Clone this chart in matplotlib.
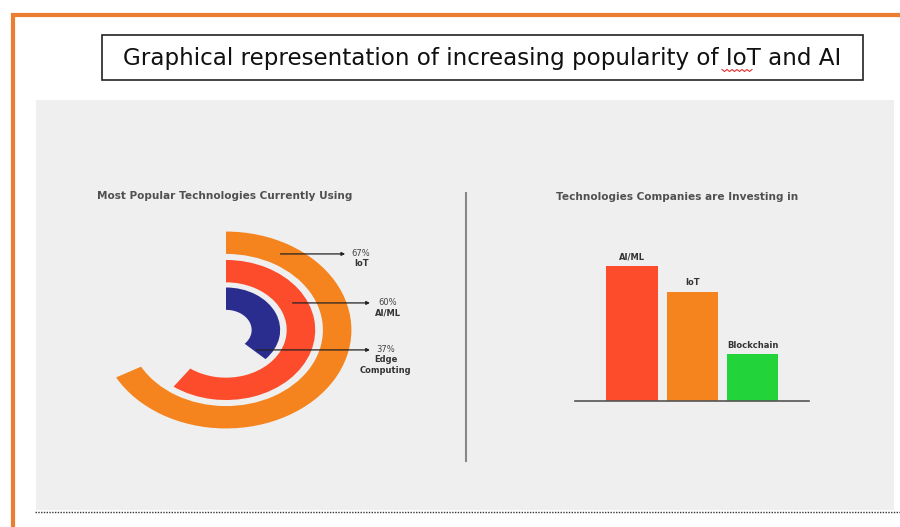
import numpy as np
import matplotlib
matplotlib.use("Agg")
import matplotlib.pyplot as plt
from matplotlib.patches import Wedge, Rectangle
from matplotlib.lines import Line2D

# ==============================
# DATA
# ==============================
title = "Graphical representation of increasing popularity of IoT and AI"

ring_title = "Most Popular Technologies Currently Using"
ring_labels = ["Edge\nComputing", "AI/ML", "IoT"]      # inner -> outer
ring_values = [37, 60, 67]                              # percent
ring_colors = ["#2B2D8E", "#FC4C2C", "#F5841F"]

bar_title = "Technologies Companies are Investing in"
bar_labels = ["AI/ML", "IoT", "Blockchain"]
bar_values = [58, 47, 20]
bar_colors = ["#FC4C2C", "#F5841F", "#22D33A"]

# ==============================
# FIGURE / LAYOUT HELPERS
# ==============================
W, H = 900, 527
fig = plt.figure(figsize=(W / 100, H / 100), dpi=100)
fig.patch.set_facecolor("white")


def fx(px):
    return px / W


def fy(py):
    return 1 - py / H


def axes_px(left, top, right, bottom):
    return fig.add_axes([fx(left), fy(bottom), (right - left) / W, (bottom - top) / H])


# orange page border
fig.add_artist(Line2D([fx(11), fx(900)], [fy(15), fy(15)], color="#ED7D31", lw=3,
                      solid_capstyle="butt"))
fig.add_artist(Line2D([fx(12.5), fx(12.5)], [fy(13.5), fy(527)], color="#ED7D31", lw=3,
                      solid_capstyle="butt"))

# title box
fig.add_artist(Rectangle((fx(102), fy(80)), fx(863) - fx(102), fy(35) - fy(80),
                         facecolor="white", edgecolor="#222222", lw=1.2))
fig.text(fx(482), fy(58), title, ha="center", va="center",
         fontsize=16.6, family="DejaVu Sans", color="#111111")
# spell-check squiggle under "IoT"
zz_x = np.arange(722, 754, 2.5)
zz_y = np.where(np.arange(len(zz_x)) % 2 == 0, 69.5, 71.5)
fig.add_artist(Line2D(fx(zz_x), fy(zz_y), color="#E03030", lw=0.8))

# grey panel + dotted rule + separator (behind the chart axes)
fig.add_artist(Rectangle((fx(36), fy(510)), fx(894) - fx(36), fy(100) - fy(510),
                         facecolor="#EFEFEF", edgecolor="none", zorder=-10))
fig.add_artist(Line2D([fx(35), fx(900)], [fy(512), fy(512)], color="#333333",
                      lw=1, linestyle=(0, (1, 1)), zorder=-5))
fig.add_artist(Line2D([fx(466), fx(466)], [fy(193), fy(461)], color="#888888",
                      lw=1.5, zorder=-5))

# ==============================
# LEFT: RADIAL BARS
# ==============================
cx, cy = 226, 330           # ring centre (px)
ux = 28.5                   # px per data unit, horizontal
uy = ux * 0.785             # vertical (image is squashed)
L, T, R, B = 90, 215, 450, 450
ax1 = axes_px(L, T, R, B)
ax1.set_xlim((L - cx) / ux, (R - cx) / ux)
ax1.set_ylim(-(B - cy) / uy, (cy - T) / uy)
ax1.axis("off")

inner_r = [0.9, 2.13, 3.4]
band = 1.0
label_y = [-0.89, 1.21, 3.40]      # y level of each pointer line
head_x = [5.05, 5.05, 4.18]
text_x = [5.61, 5.68, 4.74]

for r0, v, c, lab, yl, hx, tx in zip(inner_r, ring_values, ring_colors,
                                      ring_labels, label_y, head_x, text_x):
    ax1.add_patch(Wedge((0, 0), r0 + band, 90 - 360 * v / 100, 90,
                        width=band, facecolor=c, edgecolor="none"))
    rm = r0 + band / 2
    x0 = np.sqrt(rm ** 2 - yl ** 2)
    ax1.annotate("", xy=(hx, yl), xytext=(x0, yl),
                 arrowprops=dict(arrowstyle="-|>", color="#222222", lw=0.9,
                                 mutation_scale=5, shrinkA=0, shrinkB=0))
    ax1.text(tx, yl, f"{v}%", ha="center", va="center", fontsize=6,
             color="#444444", family="DejaVu Sans")
    ax1.annotate(lab, xy=(tx, yl), xytext=(0, -4), textcoords="offset points",
                 ha="center", va="top", fontsize=6, fontweight="bold",
                 color="#333333", family="DejaVu Sans", linespacing=1.25)

fig.text(fx(224.5), fy(196), ring_title, ha="center", va="center", fontsize=7.6,
         fontweight="bold", color="#505050", family="DejaVu Sans")

# ==============================
# RIGHT: BAR CHART
# ==============================
ax2 = axes_px(575, 240, 809, 400.7)
x = np.arange(len(bar_values))
ax2.bar(x, bar_values, width=0.85, color=bar_colors)
ax2.set_xlim(-0.94, 2.93)
ax2.set_ylim(0, 160.7 / (134.7 / 58))
for s in ["top", "right", "left"]:
    ax2.spines[s].set_visible(False)
ax2.spines["bottom"].set_color("#555555")
ax2.spines["bottom"].set_linewidth(1.2)
ax2.set_xticks([])
ax2.set_yticks([])
ax2.patch.set_alpha(0)
for xi, v, lab in zip(x, bar_values, bar_labels):
    ax2.annotate(lab, xy=(xi, v), xytext=(0, 3), textcoords="offset points",
                 ha="center", va="bottom", fontsize=6, fontweight="bold",
                 color="#333333", family="DejaVu Sans")

fig.text(fx(677), fy(197), bar_title, ha="center", va="center", fontsize=7.6,
         fontweight="bold", color="#505050", family="DejaVu Sans")

plt.savefig("out.png", dpi=100)
